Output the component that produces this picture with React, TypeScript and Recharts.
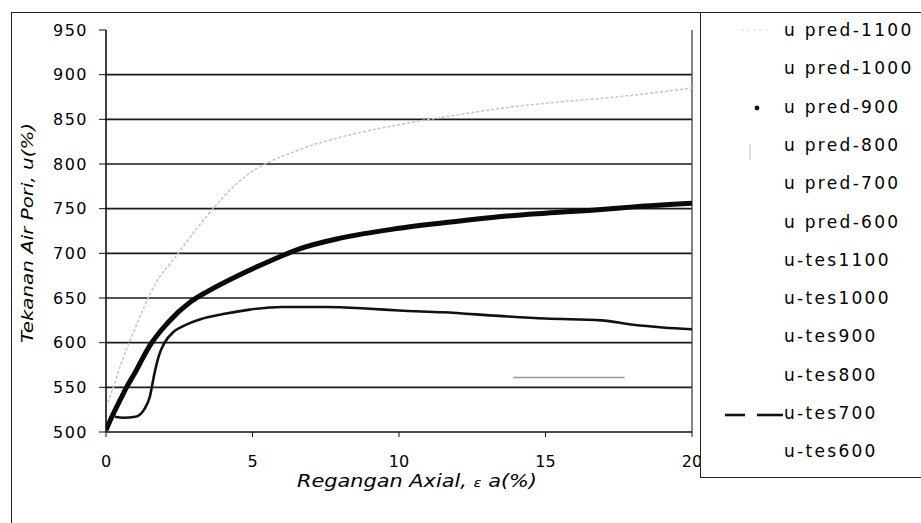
import React from 'react';
import { LineChart, Line, XAxis, YAxis, CartesianGrid, Legend, ReferenceLine } from 'recharts';

const seriesNames = [
  'u pred-1100', 'u pred-1000', 'u pred-900', 'u pred-800', 'u pred-700', 'u pred-600',
  'u-tes1100', 'u-tes1000', 'u-tes900', 'u-tes800', 'u-tes700', 'u-tes600',
];

const xTicks = [0, 5, 10, 15, 20];
const yTicks = [500, 550, 600, 650, 700, 750, 800, 850, 900, 950];
const gridValues = [550, 600, 650, 700, 750, 800, 850, 900];

const pred1100X = [0, 0.25, 0.5, 0.93, 1.3, 1.7, 2.3, 3.2, 4.6, 6.6, 8, 10, 12, 13.9, 15, 17.4, 20];
const pred1100U = [528, 550, 575, 611, 640, 667, 693, 732, 782, 816, 830, 844, 855, 864, 868, 875, 885];

const pred900X = [0, 0.2, 0.5, 0.7, 1.0, 1.16, 1.5, 2.1, 2.9, 3.5, 4.5, 5.5, 6.6, 8, 10, 12, 13.4, 15, 16.9, 18, 20];
const pred900U = [502, 517, 537, 550, 567, 577, 597, 622, 646, 658, 675, 690, 705, 717, 728, 736, 741, 745, 749, 752, 756];

const pred800X = [13.9, 17.7];
const pred800U = [561, 561];

const tes700X = [0.3, 0.6, 1.0, 1.3, 1.5, 1.65, 1.8, 2.0, 2.3, 2.6, 3.2, 4.0, 4.9, 6.0, 7.5, 9, 10, 11.5, 13.4, 15, 16.9, 18, 19, 20];
const tes700U = [517, 516, 517, 525, 540, 565, 585, 600, 612, 618, 626, 632, 637, 640, 640, 638, 636, 634, 630, 627, 625, 620, 617, 615];

const toPoints = (xs: number[], us: number[]) => xs.map((x, i) => ({ x, u: us[i] }));

const FONT = '"DejaVu Sans", sans-serif';

const YTick = (props: any) => {
  const { x, y, payload } = props;
  return (
    <text x={x} y={y} textAnchor="end" dominantBaseline="central" fontFamily={FONT} fontSize={16} letterSpacing={1.5} fill="#000">
      {payload.value}
    </text>
  );
};

const XTick = (props: any) => {
  const { x, y, payload } = props;
  return (
    <text x={x} y={y} dy="0.71em" textAnchor="middle" fontFamily={FONT} fontSize={16} fill="#000">
      {payload.value}
    </text>
  );
};

const YTitle = () => (
  <text
    x={27}
    y={233}
    transform="rotate(-90, 27, 233)"
    textAnchor="middle"
    dominantBaseline="central"
    fontFamily={FONT}
    fontStyle="italic"
    fontSize={16}
    textLength={220}
    lengthAdjust="spacingAndGlyphs"
    fill="#000"
  >
    Tekanan Air Pori, u(%)
  </text>
);

const XTitle = () => (
  <text
    x={297}
    y={487}
    fontFamily={FONT}
    fontStyle="italic"
    fontSize={17}
    textLength={240}
    lengthAdjust="spacingAndGlyphs"
    fill="#000"
  >
    Regangan Axial,  <tspan fontSize={12}>ε</tspan>  a(%)
  </text>
);

const LegendBox = () => (
  <div
    style={{
      position: 'relative',
      width: 240,
      height: 466,
      background: '#fff',
      borderLeft: '1.6px solid #222',
      borderTop: '1.6px solid #222',
      borderBottom: '1.6px solid #222',
      boxSizing: 'border-box',
    }}
  >
    <svg width={100} height={466} style={{ position: 'absolute', left: 0, top: 0 }}>
      <line x1={40} y1={17} x2={70} y2={17} stroke="#ddd" strokeWidth={1.2} strokeDasharray="3 3" />
      <circle cx={56} cy={95} r={2.4} fill="#111" />
      <line x1={49} y1={131} x2={49} y2={147} stroke="#d4d4d4" strokeWidth={1.5} />
      <line x1={24} y1={402} x2={44} y2={402} stroke="#111" strokeWidth={2.6} />
      <line x1={56} y1={402} x2={82} y2={402} stroke="#111" strokeWidth={2.6} />
    </svg>
    {seriesNames.map((n, i) => (
      <div
        key={n}
        style={{
          position: 'absolute',
          left: 83,
          top: 17 + i * 38.3 - 11,
          height: 22,
          lineHeight: '22px',
          fontFamily: FONT,
          fontSize: 17,
          letterSpacing: 2.3,
          whiteSpace: 'nowrap',
          color: '#000',
        }}
      >
        {n}
      </div>
    ))}
  </div>
);

export default function App() {
  return (
    <div style={{ position: 'absolute', left: 0, top: 0, width: 921, height: 523, overflow: 'hidden', background: '#fff' }}>
      <div
        style={{
          position: 'absolute',
          left: 11,
          top: 12,
          width: 930,
          height: 530,
          borderLeft: '1.6px solid #222',
          borderTop: '1.6px solid #222',
        }}
      />
      <LineChart width={921} height={523} margin={{ top: 30, right: 229, bottom: 0, left: 0 }}>
        <CartesianGrid horizontal vertical={false} horizontalValues={gridValues} stroke="#1a1a1a" strokeWidth={1.6} />
        <XAxis
          dataKey="x"
          type="number"
          domain={[0, 20]}
          ticks={xTicks}
          allowDataOverflow
          height={91}
          tickSize={5}
          tickMargin={19}
          tick={<XTick />}
          axisLine={{ stroke: '#111', strokeWidth: 1.6 }}
          tickLine={{ stroke: '#111' }}
          label={<XTitle />}
        />
        <YAxis
          type="number"
          domain={[500, 950]}
          ticks={yTicks}
          allowDataOverflow
          width={106}
          tickSize={7}
          tickMargin={11}
          tick={<YTick />}
          axisLine={{ stroke: '#111', strokeWidth: 1.6 }}
          tickLine={{ stroke: '#111' }}
          label={<YTitle />}
        />
        <ReferenceLine x={20} stroke="#333" strokeWidth={1.2} />
        <Line
          data={toPoints(pred1100X, pred1100U)}
          dataKey="u"
          name={seriesNames[0]}
          type="monotone"
          stroke="#c4c4c4"
          strokeWidth={1.5}
          strokeDasharray="3 2"
          dot={false}
          isAnimationActive={false}
        />
        <Line
          data={toPoints(pred800X, pred800U)}
          dataKey="u"
          name={seriesNames[3]}
          type="linear"
          stroke="#999"
          strokeWidth={1.5}
          dot={false}
          isAnimationActive={false}
        />
        <Line
          data={toPoints(tes700X, tes700U)}
          dataKey="u"
          name={seriesNames[10]}
          type="monotone"
          stroke="#111"
          strokeWidth={2.6}
          dot={false}
          isAnimationActive={false}
        />
        <Line
          data={toPoints(pred900X, pred900U)}
          dataKey="u"
          name={seriesNames[2]}
          type="monotone"
          stroke="#0a0a0a"
          strokeWidth={5}
          dot={false}
          isAnimationActive={false}
        />
        <Legend
          layout="vertical"
          align="center"
          verticalAlign="middle"
          content={<LegendBox />}
          wrapperStyle={{ position: 'absolute', left: 700, top: 12, width: 240, height: 466, margin: 0 }}
        />
      </LineChart>
    </div>
  );
}
